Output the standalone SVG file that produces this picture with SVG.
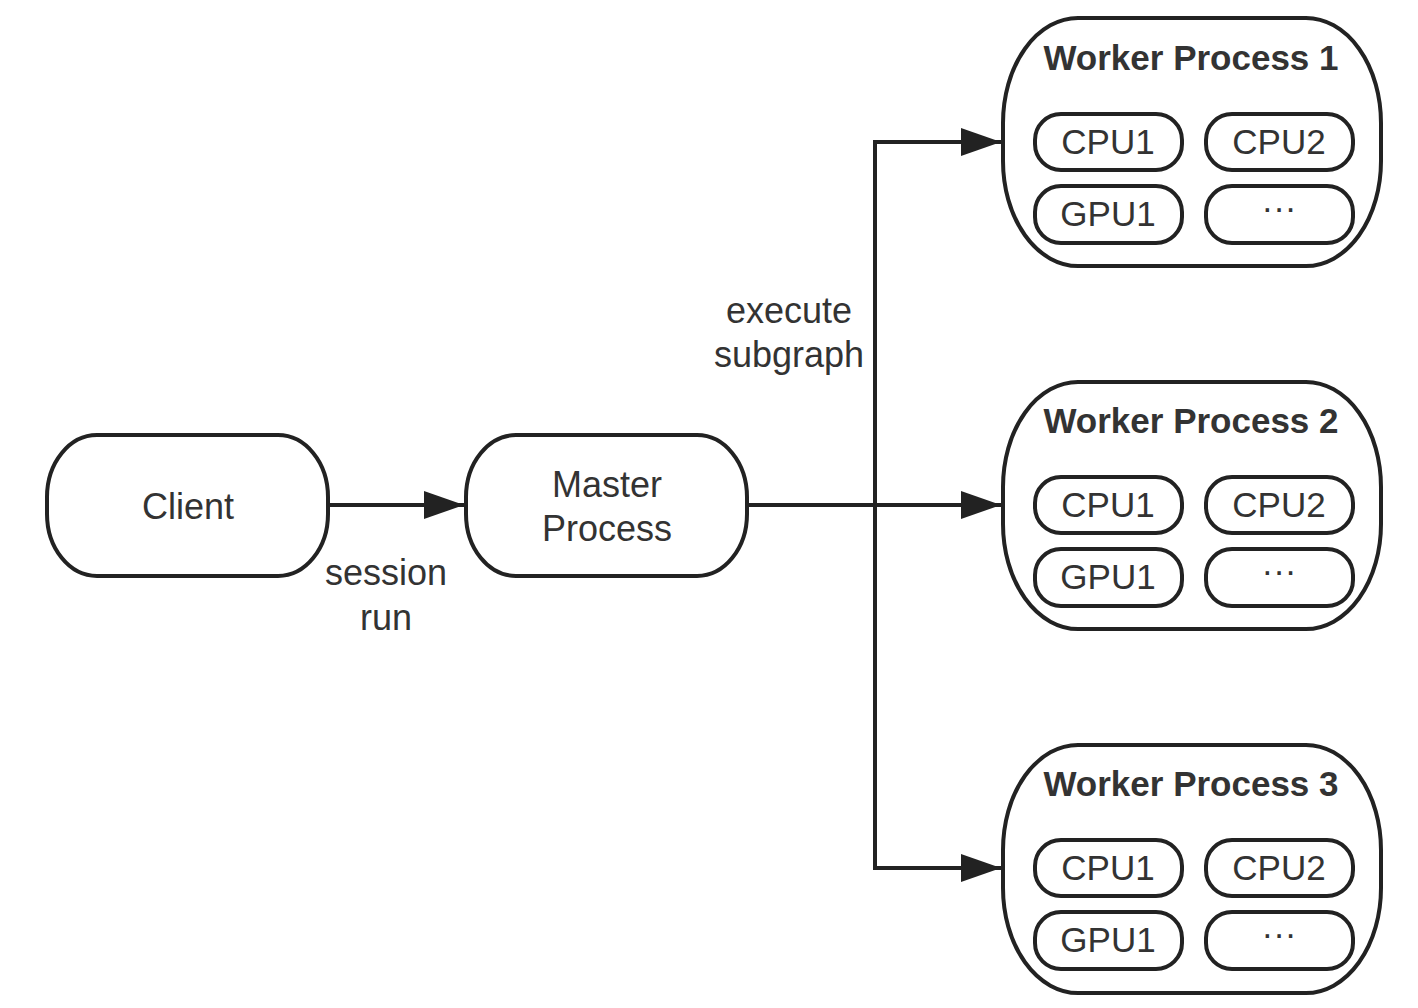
<svg xmlns="http://www.w3.org/2000/svg" width="1418" height="1008" viewBox="0 0 1418 1008">
<style>
.node{fill:#fff;stroke:#222;stroke-width:4}
.inner{fill:#fff;stroke:#222;stroke-width:4}
.t{font-family:"Liberation Sans",Arial,sans-serif;font-size:36px;fill:#333;text-anchor:middle}
.ti{font-family:"Liberation Sans",Arial,sans-serif;font-size:35px;fill:#333;text-anchor:middle}
.tb{font-family:"Liberation Sans",Arial,sans-serif;font-size:35px;font-weight:bold;fill:#333;text-anchor:middle}
.c{fill:none;stroke:#222;stroke-width:4}
</style>
<defs>
<marker id="ah" markerUnits="userSpaceOnUse" markerWidth="42" markerHeight="30" refX="40" refY="15" orient="auto">
<path d="M0 1 L40 15 L0 29 Z" fill="#222"/>
</marker>
</defs>
<g id="connectors">
<path class="c" d="M328 505 H464" marker-end="url(#ah)"/>
<path class="c" d="M747 505 H1001" marker-end="url(#ah)"/>
<path class="c" d="M875 505 V142 H1001" marker-end="url(#ah)"/>
<path class="c" d="M875 505 V868 H1001" marker-end="url(#ah)"/>
<text class="t" x="386" y="585">session</text>
<text class="t" x="386" y="630">run</text>
<text class="t" x="789" y="323">execute</text>
<text class="t" x="789" y="367">subgraph</text>
</g>
<g id="client">
<rect class="node" x="47" y="435" width="281" height="141" rx="50" ry="62"/>
<text class="t" x="188" y="519">Client</text>
</g>
<g id="master">
<rect class="node" x="466" y="435" width="281" height="141" rx="50" ry="62"/>
<text class="t" x="607" y="497">Master</text>
<text class="t" x="607" y="541">Process</text>
</g>
<g id="worker1">
<rect class="node" x="1003" y="18" width="378" height="248" rx="75" ry="105"/>
<text class="tb" x="1191" y="70">Worker Process 1</text>
<rect class="inner" x="1035" y="114" width="147" height="56" rx="26" ry="26"/>
<text class="ti" x="1108" y="154">CPU1</text>
<rect class="inner" x="1206" y="114" width="147" height="56" rx="26" ry="26"/>
<text class="ti" x="1279" y="154">CPU2</text>
<rect class="inner" x="1035" y="186" width="147" height="57" rx="26" ry="26"/>
<text class="ti" x="1108" y="226">GPU1</text>
<rect class="inner" x="1206" y="186" width="147" height="57" rx="26" ry="26"/>
<text class="ti" x="1279" y="220">···</text>
</g>
<g id="worker2">
<rect class="node" x="1003" y="382" width="378" height="247" rx="75" ry="105"/>
<text class="tb" x="1191" y="433">Worker Process 2</text>
<rect class="inner" x="1035" y="477" width="147" height="56" rx="26" ry="26"/>
<text class="ti" x="1108" y="517">CPU1</text>
<rect class="inner" x="1206" y="477" width="147" height="56" rx="26" ry="26"/>
<text class="ti" x="1279" y="517">CPU2</text>
<rect class="inner" x="1035" y="549" width="147" height="57" rx="26" ry="26"/>
<text class="ti" x="1108" y="589">GPU1</text>
<rect class="inner" x="1206" y="549" width="147" height="57" rx="26" ry="26"/>
<text class="ti" x="1279" y="583">···</text>
</g>
<g id="worker3">
<rect class="node" x="1003" y="745" width="378" height="248" rx="75" ry="105"/>
<text class="tb" x="1191" y="796">Worker Process 3</text>
<rect class="inner" x="1035" y="840" width="147" height="56" rx="26" ry="26"/>
<text class="ti" x="1108" y="880">CPU1</text>
<rect class="inner" x="1206" y="840" width="147" height="56" rx="26" ry="26"/>
<text class="ti" x="1279" y="880">CPU2</text>
<rect class="inner" x="1035" y="912" width="147" height="57" rx="26" ry="26"/>
<text class="ti" x="1108" y="952">GPU1</text>
<rect class="inner" x="1206" y="912" width="147" height="57" rx="26" ry="26"/>
<text class="ti" x="1279" y="946">···</text>
</g>
</svg>
